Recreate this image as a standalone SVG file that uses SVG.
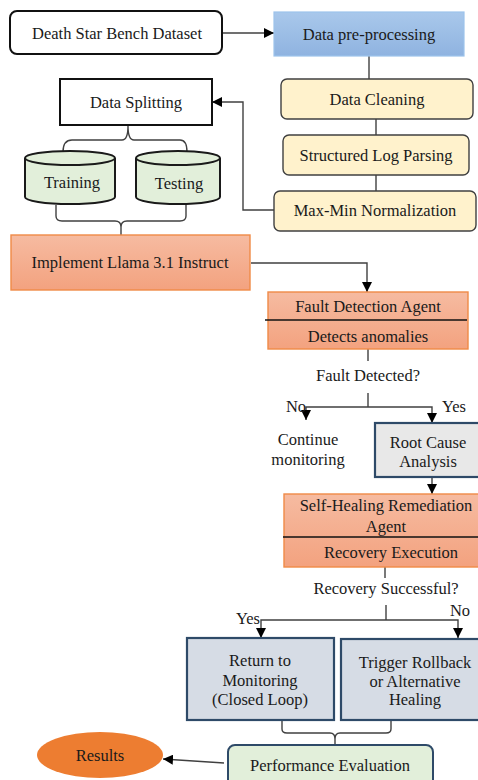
<svg xmlns="http://www.w3.org/2000/svg" width="478" height="780" viewBox="0 0 478 780" font-family="'Liberation Serif', 'Times New Roman', 'DejaVu Serif', serif">
<defs>
<linearGradient id="gBlue" x1="0" y1="0" x2="0" y2="1"><stop offset="0" stop-color="#A9C8EB"/><stop offset="1" stop-color="#8FB3E0"/></linearGradient>
<linearGradient id="gOrange" x1="0" y1="0" x2="0" y2="1"><stop offset="0" stop-color="#F6BBA1"/><stop offset="1" stop-color="#F3A27F"/></linearGradient>
<marker id="arr" viewBox="0 0 10 10" refX="10" refY="5" markerWidth="10" markerHeight="10" markerUnits="userSpaceOnUse" orient="auto"><path d="M0,0 L10,5 L0,10 Z" fill="#000"/></marker>
</defs>
<style>
text{font-family:'Liberation Serif','Times New Roman','DejaVu Serif',serif;font-size:16.5px;fill:#1a1a1a;text-anchor:middle;dominant-baseline:central}
.ln{fill:none;stroke:#404040;stroke-width:1.4}
.ar{fill:none;stroke:#404040;stroke-width:1.4;marker-end:url(#arr)}
.yel{fill:#FFF2CC;stroke:#404040;stroke-width:1.4}
.org{fill:url(#gOrange);stroke:#F08A47;stroke-width:1.4}
.cyl{fill:#E2EFDA;stroke:#1a1a1a;stroke-width:2}
.gry{stroke:#2E4A68;stroke-width:2.2}
</style>

<g id="connectors">
<path class="ar" d="M222,33 H274"/>
<path class="ln" d="M369,56 V79"/>
<path class="ln" d="M376,119 V135"/>
<path class="ln" d="M376,175 V191"/>
<path class="ar" d="M274,210 H243 V102 H212"/>
<path class="ln" d="M63,152 Q63,140 72,140 H122 Q128,140 128,126 Q128,140 134,140 H180 Q187,140 187,152"/>
<path class="ln" d="M56,205 V216 Q56,221 62,221 H115 Q121,221 121,227 V235 M186,205 V216 Q186,221 180,221 H127 Q121,221 121,227"/>
<path class="ar" d="M251,263 H367 V292"/>
<path class="ln" d="M368,349 V361"/>
<path class="ln" d="M368,393 V407"/>
<path class="ar" d="M368,407 H306 V420"/>
<path class="ar" d="M368,407 H432 V423"/>
<path class="ar" d="M432,477 V494"/>
<path class="ln" d="M385,567 V578"/>
<path class="ln" d="M386,605 V620"/>
<path class="ar" d="M386,620 H261 V638"/>
<path class="ar" d="M386,620 H458 V638"/>
<path class="ln" d="M282,720 V729 Q282,733 287,733 H330 Q335,733 335,739 V745 M391,720 V729 Q391,733 386,733 H340 Q335,733 335,739"/>
<path class="ar" d="M224,763 L163,759"/>
</g>

<g id="dataset">
<rect x="10" y="11" width="212" height="43" rx="7" fill="#fff" stroke="#111" stroke-width="2"/>
<text x="117" y="33">Death Star Bench Dataset</text>
</g>
<g id="preprocessing">
<rect x="274" y="12" width="190" height="44" fill="url(#gBlue)" stroke="#9DC3EC" stroke-width="1.2"/>
<text x="369" y="34">Data pre-processing</text>
</g>
<g id="cleaning">
<rect class="yel" x="281" y="79" width="192" height="40" rx="6"/>
<text x="377" y="99">Data Cleaning</text>
</g>
<g id="parsing">
<rect class="yel" x="283" y="135" width="186" height="40" rx="6"/>
<text x="376" y="155">Structured Log Parsing</text>
</g>
<g id="normalization">
<rect class="yel" x="274" y="191" width="202" height="40" rx="6"/>
<text x="375" y="210">Max-Min Normalization</text>
</g>
<g id="splitting">
<rect x="60" y="79" width="152" height="46" fill="#fff" stroke="#111" stroke-width="2"/>
<text x="136" y="102">Data Splitting</text>
</g>
<g id="training">
<path class="cyl" d="M25,158 V197 A45,7 0 0 0 115,197 V158"/>
<ellipse class="cyl" cx="70" cy="158" rx="45" ry="7"/>
<text x="72" y="182">Training</text>
</g>
<g id="testing">
<path class="cyl" d="M136,158 V197 A42,7 0 0 0 220,197 V158"/>
<ellipse class="cyl" cx="178" cy="158" rx="42" ry="7"/>
<text x="179" y="183">Testing</text>
</g>
<g id="llama">
<rect class="org" x="11" y="235" width="239" height="55"/>
<text x="130" y="262">Implement Llama 3.1 Instruct</text>
</g>
<g id="fault-agent">
<rect class="org" x="268" y="292" width="200" height="57"/>
<line x1="265" y1="320" x2="467" y2="320" stroke="#111" stroke-width="1.4"/>
<text x="368" y="306">Fault Detection Agent</text>
<text x="368" y="336">Detects anomalies</text>
</g>
<g id="fault-q">
<text x="368" y="375">Fault Detected?</text>
<text x="296" y="406">No</text>
<text x="454" y="406">Yes</text>
</g>
<g id="continue">
<text x="308" y="439">Continue</text>
<text x="308" y="459">monitoring</text>
</g>
<g id="rootcause">
<rect class="gry" x="375" y="423" width="108" height="54" fill="#E8E8E8"/>
<text x="428" y="442">Root Cause</text>
<text x="428" y="461">Analysis</text>
</g>
<g id="healing-agent">
<rect class="org" x="284" y="494" width="200" height="73"/>
<line x1="283" y1="537" x2="480" y2="537" stroke="#111" stroke-width="1.4"/>
<text x="386" y="505">Self-Healing Remediation</text>
<text x="386" y="526">Agent</text>
<text x="391" y="552">Recovery Execution</text>
</g>
<g id="recovery-q">
<text x="386" y="588">Recovery Successful?</text>
<text x="248" y="618">Yes</text>
<text x="460" y="610">No</text>
</g>
<g id="return">
<rect class="gry" x="187" y="638" width="147" height="82" fill="#D6DCE5"/>
<text x="260" y="660">Return to</text>
<text x="260" y="680">Monitoring</text>
<text x="260" y="699">(Closed Loop)</text>
</g>
<g id="rollback">
<rect class="gry" x="341" y="639" width="142" height="81" fill="#D6DCE5"/>
<text x="415" y="662">Trigger Rollback</text>
<text x="415" y="681">or Alternative</text>
<text x="415" y="699">Healing</text>
</g>
<g id="evaluation">
<rect x="228" y="745" width="205" height="45" rx="7" fill="#E2EFDA" stroke="#2E4A68" stroke-width="2"/>
<text x="330" y="765">Performance Evaluation</text>
</g>
<g id="results">
<ellipse cx="100" cy="755" rx="63" ry="23" fill="#ED7D31"/>
<text x="100" y="755">Results</text>
</g>
</svg>
